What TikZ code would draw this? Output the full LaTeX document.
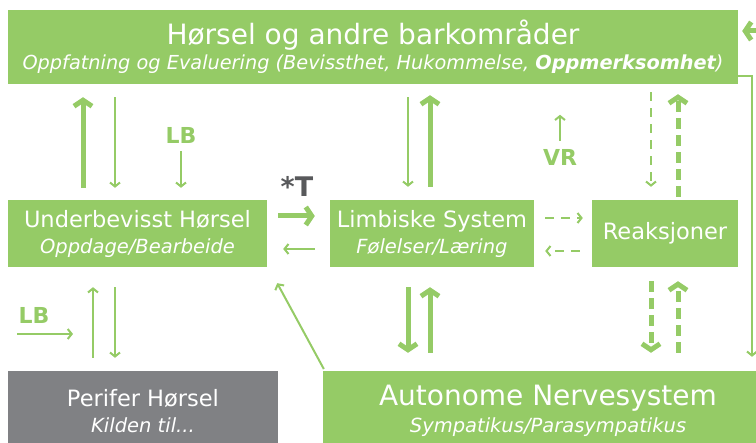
\documentclass[tikz,border=0pt]{standalone}
\usepackage{fontspec}
\setmainfont{DejaVu Sans}
\usetikzlibrary{arrows.meta,positioning}
\definecolor{HearGreen}{HTML}{95CB66}
\definecolor{HearGrey}{HTML}{808184}
\definecolor{HearDark}{HTML}{58595B}
\newcommand{\subline}[1]{{\fontsize{19.5}{22}\selectfont\itshape #1}}

\begin{document}
\begin{tikzpicture}[x=1pt, y=-1pt,
    block/.style={rectangle, fill=HearGreen, text=white, inner sep=0pt, align=center, font=\fontsize{22.5}{26}\selectfont},
    greyblock/.style={block, fill=HearGrey},
    tag/.style={text=HearGreen, inner sep=0pt, font=\fontsize{22}{22}\selectfont\bfseries},
    arrow/.style={draw=HearGreen, line width=2pt, -{Straight Barb[length=4pt,width=10pt]}},
    fatarrow/.style={draw=HearGreen, line width=5pt, -{Straight Barb[length=6pt,width=18pt]}},
    dasharrow/.style={arrow, dash pattern=on 9pt off 7pt},
    fatdasharrow/.style={fatarrow, dash pattern=on 11pt off 6pt}
]
\useasboundingbox (0,0) rectangle (756,443);
\clip (0,0) rectangle (756,443);

% Boxes
\node[block, minimum width=730, minimum height=74] (cortex) at (373,47)
  {{\fontsize{28}{28}\selectfont Hørsel og andre barkområder}\\[-1pt]
   {\fontsize{19.3}{22}\selectfont\itshape Oppfatning og Evaluering (Bevissthet, Hukommelse, \textbf{Oppmerksomhet})}};
\node[block, minimum width=259, minimum height=67] (subcon) at (137.5,233.5)
  {Underbevisst Hørsel\\ \subline{Oppdage/Bearbeide}};
\node[block, minimum width=204, minimum height=67] (limbic) at (432,233.5)
  {Limbiske System\\ \subline{Følelser/Læring}};
\node[block, minimum width=146, minimum height=67] (react) at (665,233.5) {Reaksjoner};
\node[greyblock, minimum width=270, minimum height=80] (periph) at (143,411)
  {Perifer Hørsel\\ \subline{Kilden til...}};
\node[block, minimum width=450, minimum height=80] (ans) at (548,411)
  {{\fontsize{28}{28}\selectfont Autonome Nervesystem}\\[1pt] \subline{Sympatikus/Parasympatikus}};

% Labels
\node[tag] (lbtop) at (181,135) {LB};
\node[tag] (lbbot) at (34,315) {LB};
\node[tag] (vr) at (560,157) {VR};
\node[tag, text=HearDark, font=\fontsize{27}{27}\selectfont\bfseries] (tx) at (297,186) {*T};
\coordinate (lbin) at (17,334);
\coordinate (offpage) at (775,31);

% Cortex <-> subconscious
\draw[fatarrow, shorten <=12pt, shorten >=13pt] ([xshift=-54.5]subcon.north) -- ([xshift=-54.5]subcon.north |- cortex.south);
\draw[arrow, shorten <=13pt, shorten >=12pt] ([xshift=-22.5]subcon.north |- cortex.south) -- ([xshift=-22.5]subcon.north);
\draw[arrow, shorten <=8pt, shorten >=12pt] (lbtop.south) -- (lbtop.south |- subcon.north);

% Subconscious <-> limbic
\draw[fatarrow, shorten <=11pt, shorten >=15pt] ([yshift=17.5]subcon.east) -- ([yshift=17.5]subcon.east -| limbic.west);
\draw[arrow, shorten <=15pt, shorten >=16pt] ([yshift=-15.5]limbic.west) -- ([yshift=-15.5]limbic.west -| subcon.east);

% Cortex <-> limbic
\draw[arrow, shorten <=13pt, shorten >=13pt] ([xshift=-24]limbic.north |- cortex.south) -- ([xshift=-24]limbic.north);
\draw[fatarrow, shorten <=13pt, shorten >=11pt] ([xshift=-2]limbic.north) -- ([xshift=-2]limbic.north |- cortex.south);
\draw[arrow, shorten <=8pt] (vr.north) -- ++(0,-34);

% Limbic <-> reactions
\draw[dasharrow, shorten <=11pt, shorten >=9pt] ([yshift=15.5]limbic.east) -- ([yshift=15.5]limbic.east -| react.west);
\draw[dasharrow, shorten <=12pt, shorten >=11pt] ([yshift=-17.5]react.west) -- ([yshift=-17.5]react.west -| limbic.east);

% Cortex <-> reactions
\draw[dasharrow, shorten <=8pt, shorten >=13pt] ([xshift=-14]react.north |- cortex.south) -- ([xshift=-14]react.north);
\draw[fatdasharrow, shorten <=3pt, shorten >=10pt] ([xshift=13]react.north) -- ([xshift=13]react.north |- cortex.south);

% Peripheral <-> subconscious
\draw[arrow, shorten <=13pt, shorten >=20pt] ([xshift=-50]periph.north) -- ([xshift=-50]periph.north |- subcon.south);
\draw[arrow, shorten <=20pt, shorten >=13pt] ([xshift=-28]periph.north |- subcon.south) -- ([xshift=-28]periph.north);
\draw[arrow] (lbin) -- ++(56,0);

% Autonomic system
\draw[arrow, shorten <=2pt] ([xshift=2]ans.north west) -- ([xshift=10,yshift=-16]subcon.south east);
\draw[fatarrow, shorten <=20pt, shorten >=18pt] ([xshift=-24]limbic.south) -- ([xshift=-24]limbic.south |- ans.north);
\draw[fatarrow, shorten <=18pt, shorten >=20pt] ([xshift=-2]limbic.south |- ans.north) -- ([xshift=-2]limbic.south);
\draw[fatdasharrow, shorten <=14pt, shorten >=18pt] ([xshift=-14]react.south) -- ([xshift=-14]react.south |- ans.north);
\draw[fatdasharrow, shorten <=18pt, shorten >=14pt] ([xshift=13]react.south |- ans.north) -- ([xshift=13]react.south);

% Feedback along the right edge
\draw[arrow, shorten >=14pt] ([yshift=-29]cortex.east) -| ([xshift=204]ans.north);
\draw[fatarrow, shorten >=4pt] (offpage) -- (offpage -| cortex.east);
\end{tikzpicture}
\end{document}
